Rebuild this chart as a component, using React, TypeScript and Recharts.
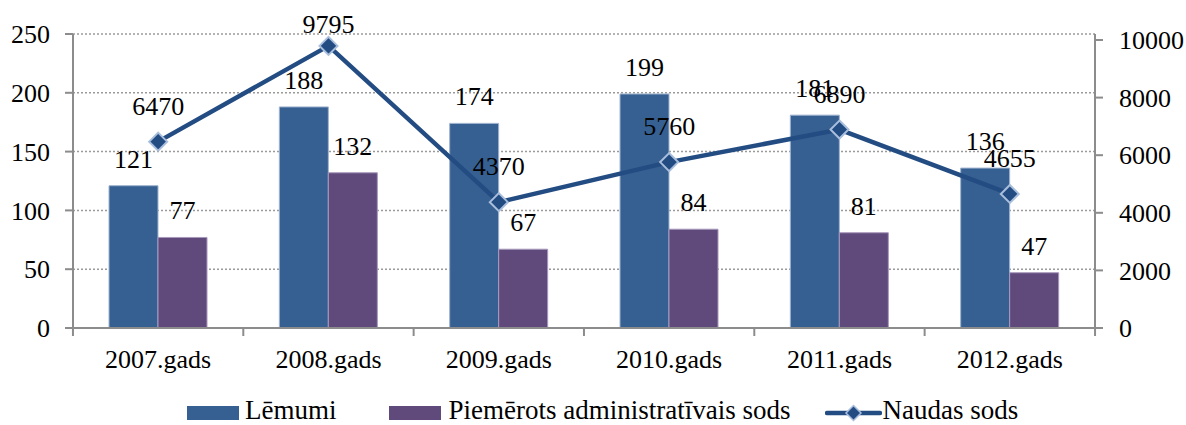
import React from 'react'
import {
  ComposedChart, Bar, Line, XAxis, YAxis, CartesianGrid, Legend, LabelList,
} from 'recharts'

const years = ['2007.gads', '2008.gads', '2009.gads', '2010.gads', '2011.gads', '2012.gads']
const lemumi = [121, 188, 174, 199, 181, 136]
const sodi = [77, 132, 67, 84, 81, 47]
const naudas = [6470, 9795, 4370, 5760, 6890, 4655]
const leftTicks = [0, 50, 100, 150, 200, 250]
const rightTicks = [0, 2000, 4000, 6000, 8000, 10000]

const data = years.map((name, i) => ({
  name, lemumi: lemumi[i], sodi: sodi[i], naudas: naudas[i],
}))

const FONT = 'Liberation Serif, Times New Roman, DejaVu Serif, serif'
const BLUE = '#376092'
const PURPLE = '#604A7B'
const LINE = '#234C83'
const AXIS = '#8C8C8C'

const XTick = (props: any) => {
  const { x, payload, index } = props
  const half = 85.2
  return (
    <g>
      <line x1={x - half} x2={x - half} y1={328} y2={336} stroke={AXIS} strokeWidth={2} />
      {index === years.length - 1 && (
        <line x1={x + half} x2={x + half} y1={328} y2={336} stroke={AXIS} strokeWidth={2} />
      )}
      <text x={x} y={368} textAnchor="middle" fontSize={26} style={{ fontFamily: FONT }} fill="#000">
        {payload.value}
      </text>
    </g>
  )
}

const Diamond = (props: any) => {
  const { cx, cy } = props
  if (cx == null || cy == null) return null
  const r = 9
  return (
    <path
      d={`M${cx},${cy - r}L${cx + r},${cy}L${cx},${cy + r}L${cx - r},${cy}Z`}
      fill={LINE}
      stroke="#A9BEDC"
      strokeWidth={2}
    />
  )
}

const LineLabel = (props: any) => {
  const { x, y, value, index } = props
  const off = index === 1 ? 13 : 27
  return (
    <text x={x} y={y - off} textAnchor="middle" fontSize={26} style={{ fontFamily: FONT }} fill="#000">
      {value}
    </text>
  )
}

const BarLabel = (props: any) => {
  const { x, y, width, value } = props
  return (
    <text x={x + width / 2} y={y - 18} textAnchor="middle" fontSize={26} style={{ fontFamily: FONT }} fill="#000">
      {value}
    </text>
  )
}

const LegendContent = () => (
  <div style={{
    height: 47, fontFamily: FONT, fontSize: 27, lineHeight: '20px', color: '#000',
    paddingLeft: 187, paddingTop: 22, boxSizing: 'border-box',
  }}>
    <div style={{ display: 'flex', alignItems: 'center', height: 20 }}>
      <span style={{ width: 52, height: 14, background: BLUE, display: 'inline-block', marginRight: 6, marginTop: 6 }} />
      <span>Lēmumi</span>
      <span style={{ width: 52, height: 14, background: PURPLE, display: 'inline-block', marginLeft: 53, marginRight: 7, marginTop: 6 }} />
      <span>Piemērots administratīvais sods</span>
      <svg width={57} height={20} style={{ marginLeft: 35, marginTop: 6 }}>
        <line x1={2} x2={55} y1={10} y2={10} stroke={LINE} strokeWidth={4.5} strokeLinecap="round" />
        <path d="M28.5,2.5L36,10L28.5,17.5L21,10Z" fill={LINE} stroke="#A9BEDC" strokeWidth={1.5} />
      </svg>
      <span>Naudas sods</span>
    </div>
  </div>
)

const tickStyle = { fontSize: 26, fill: '#000', style: { fontFamily: FONT } }

export default function App() {
  return (
    <div style={{ position: 'absolute', left: 0, top: 0, background: '#fff', fontFamily: FONT }}>
      <ComposedChart
        width={1186}
        height={425}
        data={data}
        margin={{ top: 34, right: 0, left: 0, bottom: 0 }}
        barGap={0}
        barCategoryGap={36}
        style={{ fontFamily: FONT }}
      >
        <CartesianGrid vertical={false} stroke="#9A9A9A" strokeDasharray="2 2" strokeWidth={1.5} yAxisId="left" />
        <XAxis
          dataKey="name"
          height={50}
          tickLine={false}
          axisLine={{ stroke: AXIS, strokeWidth: 2 }}
          tick={<XTick />}
          interval={0}
        />
        <YAxis
          yAxisId="left"
          width={73}
          domain={[0, 250]}
          ticks={leftTicks}
          interval={0}
          tickSize={8}
          tickMargin={15}
          axisLine={{ stroke: AXIS, strokeWidth: 2 }}
          tickLine={{ stroke: AXIS, strokeWidth: 2 }}
          tick={tickStyle}
        />
        <YAxis
          yAxisId="right"
          orientation="right"
          width={91}
          domain={[0, 10208]}
          ticks={rightTicks}
          interval={0}
          tickSize={8}
          tickMargin={16}
          axisLine={{ stroke: AXIS, strokeWidth: 2 }}
          tickLine={{ stroke: AXIS, strokeWidth: 2 }}
          tick={{ ...tickStyle, textAnchor: 'start' }}
        />
        <Legend verticalAlign="bottom" content={<LegendContent />} />
        <Bar yAxisId="left" dataKey="lemumi" name="Lēmumi" fill={BLUE} barSize={49}
          stroke="#9FB3CF" strokeWidth={1} isAnimationActive={false}>
          <LabelList dataKey="lemumi" content={<BarLabel />} />
        </Bar>
        <Bar yAxisId="left" dataKey="sodi" name="Piemērots administratīvais sods" fill={PURPLE} barSize={49}
          stroke="#A898BC" strokeWidth={1} isAnimationActive={false}>
          <LabelList dataKey="sodi" content={<BarLabel />} />
        </Bar>
        <Line yAxisId="right" dataKey="naudas" name="Naudas sods" stroke={LINE} strokeWidth={4.5}
          dot={<Diamond />} activeDot={false} isAnimationActive={false}>
          <LabelList dataKey="naudas" content={<LineLabel />} />
        </Line>
      </ComposedChart>
    </div>
  )
}
